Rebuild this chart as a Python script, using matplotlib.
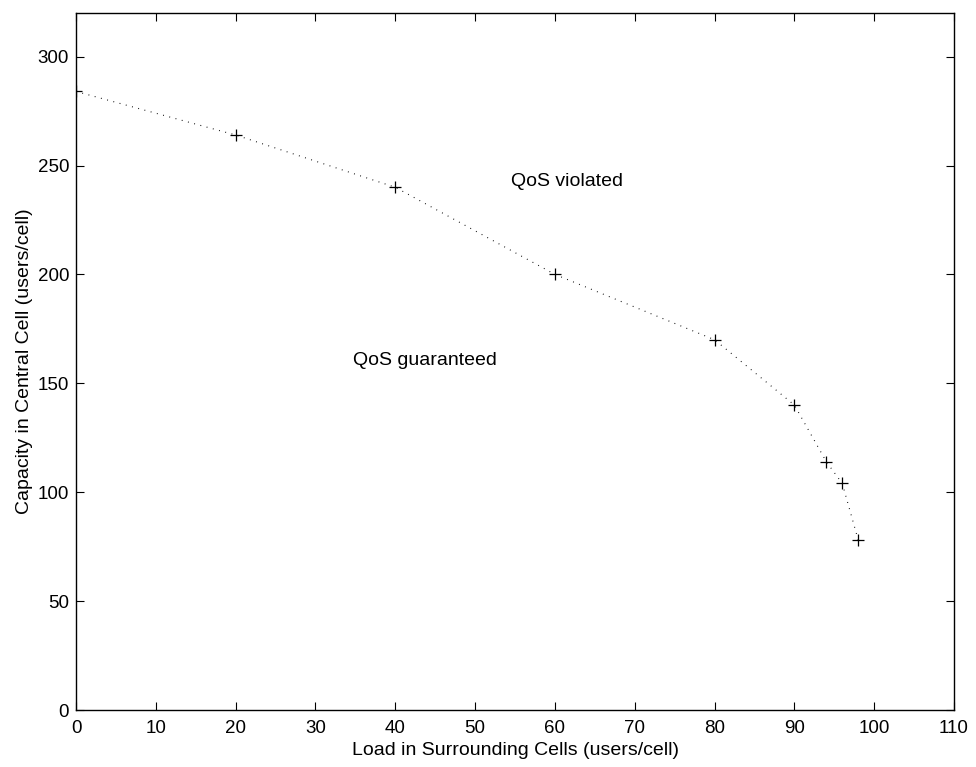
import matplotlib
matplotlib.use("Agg")
import matplotlib.pyplot as plt

plt.rcParams['font.family'] = ['Liberation Sans', 'DejaVu Sans']

load = [0, 20, 40, 60, 80, 90, 94, 96, 98]
capacity = [284, 264, 240, 200, 170, 140, 114, 104, 78]
xticks = list(range(0, 111, 10))
yticks = list(range(0, 301, 50))

fig = plt.figure(figsize=(9.76, 7.67), dpi=100)
ax = fig.add_axes([0.0779, 0.0743, 0.8996, 0.9087])

# dotted boundary, sparse dots like the original
ax.plot(load, capacity, linestyle=(0, (0.8, 5)), color='black', linewidth=0.8)
ax.plot(load, capacity, linestyle='none', marker='+', color='black',
        markersize=9, markeredgewidth=0.9)

ax.text(54.5, 242.5, "QoS violated", fontsize=14, va='center', ha='left')
ax.text(34.7, 160.6, "QoS guaranteed", fontsize=14, va='center', ha='left')

ax.set_xlim(0, 110)
ax.set_ylim(0, 320)
ax.set_xticks(xticks)
ax.set_yticks(yticks)
ax.tick_params(direction='in', length=6, width=0.8, labelsize=13.5,
               top=True, right=True)
ax.tick_params(axis='x', pad=7.5)
ax.tick_params(axis='y', pad=5)
for s in ax.spines.values():
    s.set_linewidth(1.0)

ax.set_xlabel("Load in Surrounding Cells (users/cell)", fontsize=14, labelpad=3)
ax.set_ylabel("Capacity in Central Cell (users/cell)", fontsize=14, labelpad=3)

fig.savefig("out.png", dpi=100)
